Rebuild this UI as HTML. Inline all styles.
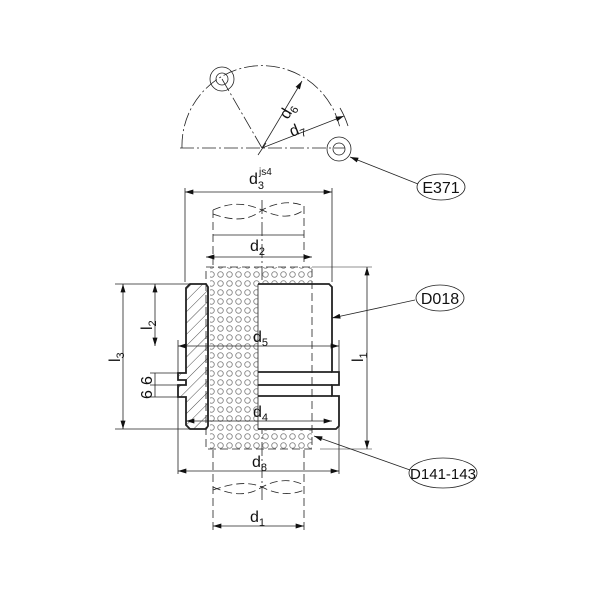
<!DOCTYPE html>
<html><head><meta charset="utf-8"><style>body{margin:0;background:#fff}svg{display:block}text{font-family:"Liberation Sans","DejaVu Sans",sans-serif;fill:#111}</style></head><body>
<svg width="600" height="600" viewBox="0 0 600 600" xmlns="http://www.w3.org/2000/svg">
<defs>
<marker id="a" viewBox="0 0 10 6" refX="10" refY="3" markerWidth="14" markerHeight="5" orient="auto-start-reverse" markerUnits="userSpaceOnUse"><path d="M0,0L10,3L0,6z" fill="#111"/></marker>
<pattern id="dots" width="9" height="9" patternUnits="userSpaceOnUse"><circle cx="4.5" cy="4.5" r="2.8" fill="none" stroke="#888" stroke-width="0.9"/></pattern>
<pattern id="hatch" width="8" height="8" patternUnits="userSpaceOnUse" patternTransform="rotate(45)"><line x1="0" y1="0" x2="0" y2="8" stroke="#222" stroke-width="0.8"/></pattern>
</defs>
<g fill="none" stroke="#222" stroke-width="0.8">
<path d="M182,148 A80,80 0 0 1 340,128" stroke-dasharray="14,3,2,3"/>
<line x1="180" y1="148" x2="345" y2="148" stroke-dasharray="14,3,2,3"/>
<line x1="262" y1="148" x2="222" y2="79" stroke-dasharray="14,3,2,3"/>
<line x1="262" y1="148" x2="302" y2="81" marker-end="url(#a)"/>
<line x1="262" y1="148" x2="344" y2="116" marker-end="url(#a)"/>
<path d="M340,108 A92,92 0 0 1 348,126"/>
<line x1="258" y1="155" x2="266" y2="143"/>
<circle cx="222" cy="79" r="12"/><circle cx="222" cy="79" r="6"/>
<circle cx="339" cy="149" r="12"/><circle cx="339" cy="149" r="6"/>
<line x1="350" y1="157" x2="418" y2="184" marker-start="url(#a)"/>
<ellipse cx="441" cy="187" rx="24" ry="13"/>
<line x1="185" y1="192" x2="332" y2="192" marker-start="url(#a)" marker-end="url(#a)"/>
<line x1="185" y1="188" x2="185" y2="282"/><line x1="332" y1="188" x2="332" y2="282"/>
<path d="M213,210 C235,200 250,205 262,210 C275,216 290,220 304,210" stroke-dasharray="8,4"/>
<path d="M213,214 C235,222 250,220 262,210 C275,203 290,200 304,206" stroke-dasharray="8,4"/>
<line x1="213" y1="210" x2="213" y2="265" stroke-dasharray="8,4"/>
<line x1="304" y1="206" x2="304" y2="265" stroke-dasharray="8,4"/>
<line x1="262" y1="200" x2="262" y2="500" stroke-dasharray="14,3,2,3"/>
<line x1="213" y1="235" x2="304" y2="235"/>
<line x1="206" y1="257" x2="312" y2="257" marker-start="url(#a)" marker-end="url(#a)"/>
<line x1="213" y1="450" x2="213" y2="530" stroke-dasharray="8,4"/>
<line x1="304" y1="450" x2="304" y2="530" stroke-dasharray="8,4"/>
<path d="M213,487 C235,497 250,495 262,487 C275,480 290,478 304,485" stroke-dasharray="8,4"/>
<path d="M213,490 C235,482 250,482 262,487 C275,494 290,496 304,490" stroke-dasharray="8,4"/>
<line x1="213" y1="526" x2="304" y2="526" marker-start="url(#a)" marker-end="url(#a)"/>
</g>
<rect x="210" y="267" width="102" height="182" fill="url(#dots)"/>
<rect x="258" y="283" width="76" height="147" fill="#fff"/>
<g fill="none" stroke="#222">
<rect x="206" y="267" width="106" height="182" stroke-dasharray="8,4" stroke-width="0.8"/>
<line x1="312" y1="267" x2="372" y2="267" stroke-width="0.6"/>
<line x1="320" y1="449" x2="372" y2="449" stroke-width="0.6"/>
<path d="M190,284 L206,284 L208,287 L208,426 L206,429 L190,429 L186,425 L186,397 L178,397 L178,385 L186,385 L186,380 L178,380 L178,373 L186,373 L186,288 Z" fill="url(#hatch)" stroke-width="1.8"/>
<path d="M258,284 L329,284 L332,287 L332,372 L339,372 L339,385 L332,385 L332,396 L339,396 L339,426 L336,429 L258,429" stroke-width="1.8"/>
<line x1="258" y1="372" x2="332" y2="372" stroke-width="1.8"/><line x1="258" y1="385" x2="332" y2="385" stroke-width="1.8"/>
<line x1="258" y1="396" x2="332" y2="396" stroke-width="1.8"/>
<line x1="258" y1="284" x2="258" y2="429" stroke-width="0.8"/>
</g>
<g fill="none" stroke="#222" stroke-width="0.8">
<line x1="178" y1="346" x2="339" y2="346" marker-start="url(#a)" marker-end="url(#a)"/>
<line x1="186" y1="421" x2="332" y2="421" marker-start="url(#a)" marker-end="url(#a)"/>
<line x1="178" y1="471" x2="339" y2="471" marker-start="url(#a)" marker-end="url(#a)"/>
<line x1="178" y1="385" x2="178" y2="474"/><line x1="339" y1="396" x2="339" y2="474"/>
<line x1="178" y1="340" x2="178" y2="373"/><line x1="339" y1="340" x2="339" y2="372"/>
<line x1="115" y1="284" x2="190" y2="284"/><line x1="115" y1="429" x2="190" y2="429"/>
<line x1="123" y1="284" x2="123" y2="429" marker-start="url(#a)" marker-end="url(#a)"/>
<line x1="155" y1="284" x2="155" y2="346" marker-start="url(#a)" marker-end="url(#a)"/>
<line x1="150" y1="373" x2="178" y2="373"/><line x1="150" y1="385" x2="178" y2="385"/><line x1="150" y1="397" x2="178" y2="397"/>
<line x1="155" y1="373" x2="155" y2="397"/>
<line x1="367" y1="267" x2="367" y2="449" marker-start="url(#a)" marker-end="url(#a)"/>
<line x1="332" y1="318" x2="415" y2="300" marker-start="url(#a)"/>
<ellipse cx="440" cy="298" rx="24" ry="13"/>
<line x1="314" y1="436" x2="410" y2="470" marker-start="url(#a)"/>
<ellipse cx="443" cy="473" rx="34" ry="15"/>
</g>
<g font-size="16">
<text x="249" y="184">d<tspan font-size="11" dy="5">3</tspan><tspan font-size="10" dx="-5" dy="-14">js4</tspan></text>
<text x="250" y="251">d<tspan font-size="11" dy="4">2</tspan></text>
<text x="253" y="342">d<tspan font-size="11" dy="4">5</tspan></text>
<text x="253" y="417">d<tspan font-size="11" dy="4">4</tspan></text>
<text x="252" y="467">d<tspan font-size="11" dy="4">8</tspan></text>
<text x="250" y="522">d<tspan font-size="11" dy="4">1</tspan></text>
<text transform="translate(288,120) rotate(-60)">d<tspan font-size="11" dy="4">6</tspan></text>
<text transform="translate(292,137) rotate(-22)">d<tspan font-size="11" dy="4">7</tspan></text>
<text transform="translate(120,362) rotate(-90)">l<tspan font-size="11" dy="4">3</tspan></text>
<text transform="translate(152,330) rotate(-90)">l<tspan font-size="11" dy="4">2</tspan></text>
<text transform="translate(363,362) rotate(-90)">l<tspan font-size="11" dy="4">1</tspan></text>
<text transform="translate(152,385) rotate(-90)">6</text>
<text transform="translate(152,399) rotate(-90)">6</text>
<text x="441" y="193" text-anchor="middle">E371</text>
<text x="440" y="304" text-anchor="middle">D018</text>
<text x="443" y="479" text-anchor="middle" font-size="15">D141-143</text>
</g>
</svg>
</body></html>
